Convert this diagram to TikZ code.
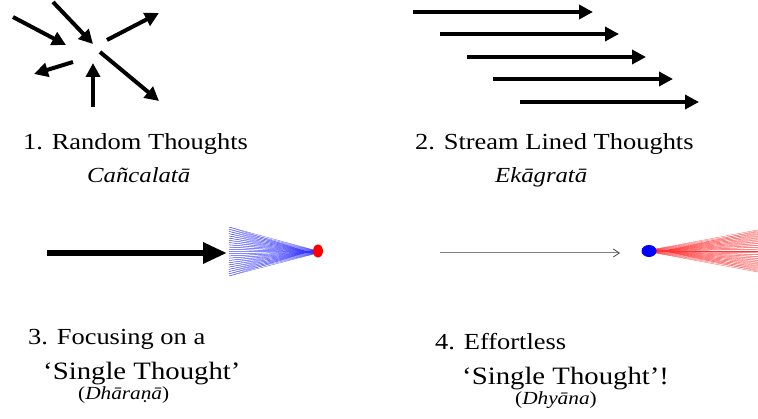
\documentclass[tikz,border=0pt]{standalone}
\usepackage{fontspec}
\setmainfont{Liberation Serif}[FakeStretch=1.15]
\usetikzlibrary{arrows.meta,shapes.geometric}
\begin{document}
\begin{tikzpicture}[x=1pt,y=-1pt,
  bigarrow/.style={line width=4pt,-{Triangle[length=14pt,width=14pt]}},
  fatarrow/.style={line width=6pt,-{Triangle[length=24pt,width=20pt]}},
  thinarrow/.style={line width=1pt,draw=gray,-{Straight Barb[length=6pt,width=8pt,line width=0.8pt,color=black!70]}},
  lbl/.style={anchor=base west,inner sep=0pt,font=\fontsize{23}{26}\selectfont},
  lblbig/.style={anchor=base west,inner sep=0pt,font=\fontsize{25}{28}\selectfont},
  skt/.style={anchor=base west,inner sep=0pt,font=\fontsize{21.5}{26}\selectfont\itshape},
  sktsmall/.style={anchor=base west,inner sep=0pt,font=\fontsize{18.5}{22}\selectfont},
  hatchb/.style={draw=blue!80,line width=0.25pt},
  hatchr/.style={draw=red!80,line width=0.25pt}]
\useasboundingbox (0,0) rectangle (758,419);

% Panel 1: random thoughts
\coordinate (a1) at (13,17);  \coordinate (a2) at (66,45);
\coordinate (b1) at (53,2);   \coordinate (b2) at (93,44);
\coordinate (c1) at (107,40); \coordinate (c2) at (159,13);
\coordinate (d1) at (73,62);  \coordinate (d2) at (34,74);
\coordinate (e1) at (93,107); \coordinate (e2) at (93,63);
\coordinate (f1) at (100,52); \coordinate (f2) at (159,101);
\foreach \s/\t in {a1/a2,b1/b2,c1/c2,d1/d2,e1/e2,f1/f2}
  \draw[bigarrow] (\s) -- (\t);

% Panel 2: stream lined thoughts
\foreach \i/\xs/\xe/\y in {1/413/593/12,2/440/619/34,3/467/646/57,4/493/673/79,5/520/699/102}{
  \coordinate (s\i) at (\xs,\y);
  \coordinate (t\i) at (\xe,\y);
  \draw[bigarrow] (s\i) -- (t\i);
}

% Labels row 1
\node[lbl] (l1) at (23,150) {1. Random Thoughts};
\node[skt] (k1) at (87,183) {Cañcalatā};
\node[lbl] (l2) at (415,150) {2. Stream Lined Thoughts};
\node[skt] (k2) at (495,183) {Ekāgratā};

% Panel 3: focusing
\coordinate (g1) at (47,253);
\coordinate (g2) at (227,253);
\draw[fatarrow] (g1) -- (g2);
\foreach \i in {0,...,22}{
  \pgfmathsetmacro{\yy}{227+\i*49/22}
  \pgfmathsetmacro{\ya}{252+0.08*(\yy-251.5)}
  \pgfmathsetmacro{\yb}{252-0.08*(\yy-251.5)}
  \draw[hatchb] (229,\yy) -- (314,\ya);
  \draw[hatchb] (229,\yy) -- (314,\yb);
}
\node[ellipse,fill=red,inner sep=0pt,minimum width=10pt,minimum height=13pt] (rdot) at (318,251) {};

% Panel 4: effortless
\coordinate (h1) at (440,253);
\coordinate (h2) at (620,253);
\draw[thinarrow] (h1) -- (h2);
\begin{scope}
\clip (650,200) rectangle (758,300);
\foreach \i in {0,...,22}{
  \pgfmathsetmacro{\yy}{224+\i*54/22}
  \pgfmathsetmacro{\ya}{251+0.07*(\yy-251)}
  \pgfmathsetmacro{\yb}{251-0.07*(\yy-251)}
  \draw[hatchr] (790,\yy) -- (655,\ya);
  \draw[hatchr] (790,\yy) -- (655,\yb);
}
\end{scope}
\node[ellipse,fill=blue,inner sep=0pt,minimum width=15pt,minimum height=12pt] (bdot) at (649,251) {};

% Labels row 2
\node[lbl] (l3) at (28,345) {3. Focusing on a};
\node[lblbig] (q3) at (43,380) {‘Single Thought’};
\node[sktsmall] (k3) at (78,400) {(\textit{Dhāraṇā})};
\node[lbl] (l4) at (435,350) {4. Effortless};
\node[lblbig] (q4) at (462,385) {‘Single Thought’!};
\node[sktsmall] (k4) at (515,405) {(\textit{Dhyāna})};
\end{tikzpicture}
\end{document}
